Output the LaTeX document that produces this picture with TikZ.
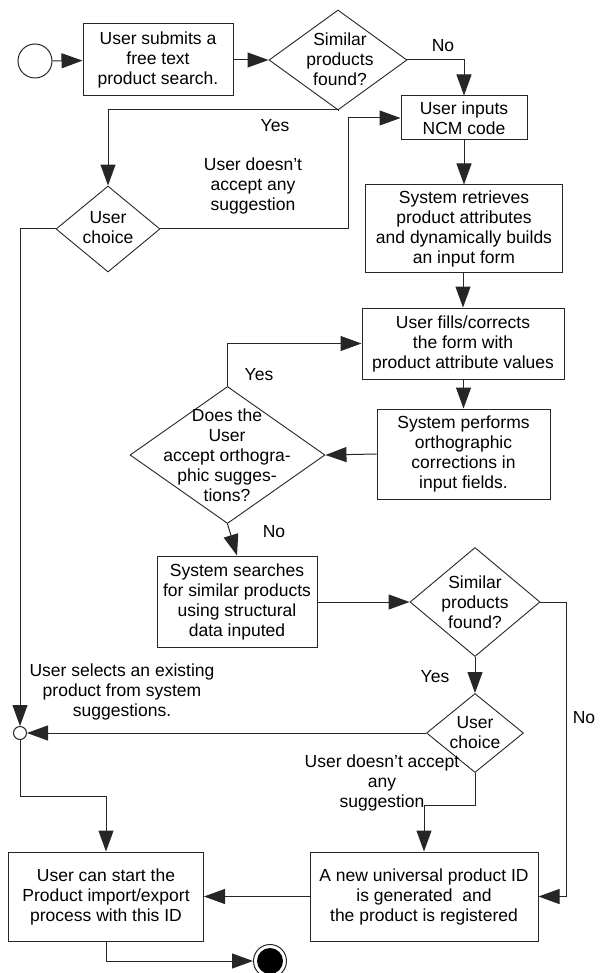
\documentclass[tikz,border=0pt]{standalone}
\usepackage{fontspec}
\setmainfont{Liberation Sans}
\usetikzlibrary{shapes.geometric,arrows.meta}
\newcommand{\apos}{{\char39}}
\begin{document}
\begin{tikzpicture}[x=1pt,y=-1pt,
  every node/.style={font=\fontsize{17.5}{20}\selectfont, inner sep=0pt, align=center},
  stepbox/.style={draw=black!85, line width=1pt, rectangle, fill=white},
  dec/.style={draw=black!85, line width=0.9pt, diamond, fill=white},
  lbl/.style={},
  arr/.style={draw=black!85, line width=1pt, -{Triangle[length=21pt,width=15pt]}},
  ln/.style={draw=black!85, line width=1pt}]
\useasboundingbox (0,0) rectangle (605,973);
% nodes
\node[circle, draw=black!85, line width=1pt, minimum size=34pt] (start) at (35,61) {};
\node[stepbox, minimum width=150pt, minimum height=72pt] (b1) at (158,60) {User submits a\\free text\\product search.};
\node[dec, minimum width=138pt, minimum height=100pt] (d1) at (338,60) {};
\node at (340,59) {Similar\\products\\found?};
\node[stepbox, minimum width=126pt, minimum height=44pt] (ncm) at (464,118) {User inputs\\NCM code};
\node[dec, minimum width=104pt, minimum height=86pt] (ch1) at (108,229) {};
\node at (108,228) {User\\choice};
\node[stepbox, minimum width=197pt, minimum height=88pt] (ret) at (464,229) {System retrieves\\product attributes\\and dynamically builds\\an input form};
\node[stepbox, minimum width=202pt, minimum height=71pt] (fill) at (463,343.5) {User fills/corrects\\the form with\\product attribute values};
\node[stepbox, minimum width=173pt, minimum height=90pt] (perf) at (463.5,454) {System performs\\orthographic\\corrections in\\input fields.};
\node[dec, minimum width=195pt, minimum height=137pt] (orth) at (227.5,455) {};
\node at (227,455) {Does the\\User\\accept orthogra-\\phic sugges-\\tions?};
\node[stepbox, minimum width=160pt, minimum height=91pt] (srch) at (237,601.5) {System searches\\for similar products\\using structural\\data inputed};
\node[dec, minimum width=130pt, minimum height=109pt] (d2) at (475,602) {};
\node at (475,602) {Similar\\products\\found?};
\node[dec, minimum width=97pt, minimum height=79pt] (ch2) at (475,733) {};
\node at (475,733) {User\\choice};
\node[circle, draw=black!85, line width=1pt, fill=white, minimum size=13pt] (jn) at (20,733) {};
\node[stepbox, minimum width=195pt, minimum height=89pt] (ustart) at (106,896.5) {User can start the\\Product import/export\\process with this ID};
\node[stepbox, minimum width=228pt, minimum height=89pt] (newid) at (424,896.5) {A new universal product ID\\is generated~ and\\the product is registered};
\node[circle, draw=black!85, line width=1pt, minimum size=33pt] (end) at (270,961) {};
\fill (end) circle (13);
% helper coordinates
\coordinate (k1) at (348,0);
\coordinate (k2) at (566,0);
\coordinate (k3) at (0,796);
\coordinate (k4) at (0,110);
\coordinate (k5) at (0,805);
% connectors
\draw[arr] (start) -- (b1);
\draw[arr] (b1) -- (d1);
\draw[arr] (d1.east) -| (ncm.north);
\draw[arr] (d1.south) -- (d1.south |- k4) -| (ch1.north);
\draw[arr] (ch1.east) -- (ch1.east -| k1) |- (ncm.west);
\draw[arr] (ch1.west) -| (jn.north);
\draw[arr] (ncm) -- (ret);
\draw[arr] (ret.south -| fill.north) -- (fill.north);
\draw[arr] (fill.south) -- (fill.south -| perf.north) -- (perf.north);
\draw[arr] (perf.west) -- (orth.east);
\draw[arr] (orth.north) |- (fill.west);
\draw[arr] (orth.south) -- (srch.north);
\draw[arr] (srch.east |- d2.west) -- (d2.west);
\draw[arr] (d2.south) -- (ch2.north);
\draw[arr] (d2.east) -- (d2.east -| k2) |- (newid.east);
\draw[arr] (ch2.west) -- (jn.east);
\draw[arr] (ch2.south) -- (ch2.south |- k5) -| (newid.north);
\draw[arr] (jn.south) -- (jn.south |- k3) -| (ustart.north);
\draw[arr] (newid.west) -- (ustart.east);
\draw[arr] (ustart.south) |- (end.west);
% labels
\node[lbl] (l1) at (443,46) {No};
\node[lbl] (l2) at (275,126) {Yes};
\node[lbl] (l3) at (253,186) {User doesn\apos t\\accept any\\suggestion};
\node[lbl] (l4) at (259,375) {Yes};
\node[lbl] (l5) at (274,532) {No};
\node[lbl] (l6) at (122,692) {User selects an existing\\product from system\\suggestions.};
\node[lbl] (l7) at (435,677) {Yes};
\node[lbl] (l8) at (382,783) {User doesn\apos t accept\\any\\suggestion};
\node[lbl] (l9) at (584,718) {No};
\end{tikzpicture}
\end{document}
